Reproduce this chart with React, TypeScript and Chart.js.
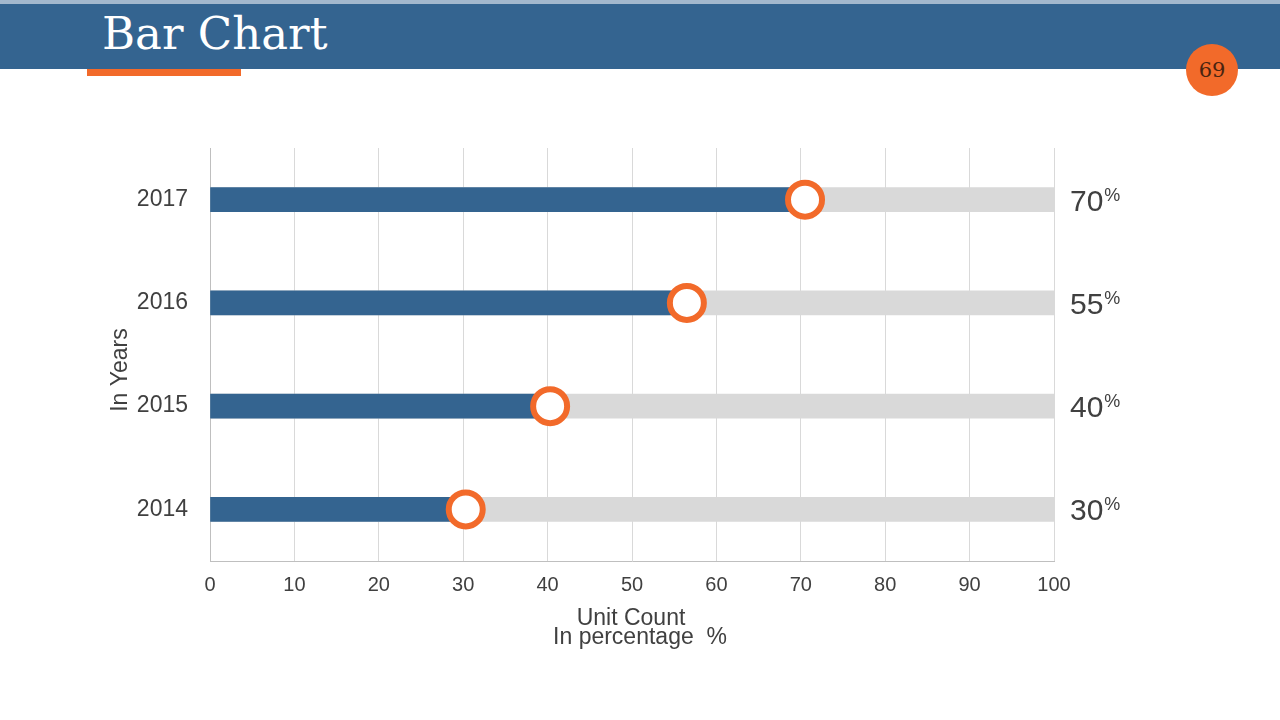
import React, { useEffect, useRef } from 'react';
import { Chart, registerables } from 'chart.js';

Chart.register(...registerables);

const years = ['2014', '2015', '2016', '2017'];
const values = [30.3, 40.3, 56.5, 70.5];
const labelValues = [30, 40, 55, 70];
const fullValues = [100, 100, 100, 100];
const xMin = 0;
const xMax = 100;
const xStep = 10;
const xTitleLines = ['Unit Count', 'In percentage  %'];
const yTitle = 'In Years';

const SANS = '"Liberation Sans", Arial, sans-serif';
const TEXT = '#404040';

const annotations = {
  id: 'annotations',
  afterDraw(chart: any) {
    const { ctx, scales } = chart;
    const x = scales.x;
    const y = scales.y;
    ctx.save();
    ctx.fillStyle = TEXT;
    labelValues.forEach((v, i) => {
      const py = y.getPixelForValue(i);
      const t = String(v);
      ctx.font = `30px ${SANS}`;
      ctx.textAlign = 'left';
      ctx.textBaseline = 'alphabetic';
      const bx = x.right + 16;
      ctx.fillText(t, bx, py + 11);
      const w = ctx.measureText(t).width;
      ctx.font = `18px ${SANS}`;
      ctx.fillText('%', bx + w + 1, py + 1);
    });
    // y axis title
    ctx.save();
    ctx.translate(127, 370);
    ctx.rotate(-Math.PI / 2);
    ctx.font = `23px ${SANS}`;
    ctx.textAlign = 'center';
    ctx.textBaseline = 'alphabetic';
    ctx.fillText(yTitle, 0, 0);
    ctx.restore();
    // x axis title
    ctx.font = `23px ${SANS}`;
    ctx.textAlign = 'center';
    ctx.textBaseline = 'alphabetic';
    ctx.fillText(xTitleLines[0], 631, 625);
    ctx.fillText(xTitleLines[1], 640, 644);
    ctx.restore();
  },
};

function BarChart() {
  const ref = useRef<HTMLCanvasElement | null>(null);
  useEffect(() => {
    if (!ref.current) return;
    const chart = new Chart(ref.current, {
      type: 'bar',
      data: {
        labels: years,
        datasets: [
          {
            type: 'line',
            data: values,
            indexAxis: 'y',
            showLine: false,
            pointRadius: 17,
            pointHoverRadius: 17,
            pointBorderWidth: 6,
            pointBackgroundColor: '#ffffff',
            pointBorderColor: '#f26a2a',
            order: 0,
          } as any,
          {
            data: values,
            backgroundColor: '#346490',
            barThickness: 24,
            grouped: false,
            order: 1,
          } as any,
          {
            data: fullValues,
            backgroundColor: '#d9d9d9',
            barThickness: 24,
            grouped: false,
            order: 2,
          } as any,
        ],
      },
      options: {
        indexAxis: 'y',
        responsive: false,
        animation: false,
        layout: { padding: { left: 0, top: 148, right: 226, bottom: 99 } },
        plugins: { legend: { display: false }, tooltip: { enabled: false } },
        scales: {
          x: {
            type: 'linear',
            min: xMin,
            max: xMax,
            ticks: {
              stepSize: xStep,
              color: TEXT,
              font: { family: SANS, size: 20 },
              padding: 12,
            },
            grid: { color: '#d9d9d9', drawTicks: false },
            border: { color: '#bfbfbf' },
            afterFit: (s: any) => {
              s.height = 60;
            },
          },
          y: {
            type: 'category',
            reverse: true,
            ticks: {
              color: TEXT,
              font: { family: SANS, size: 23 },
              padding: 22,
            },
            grid: { display: false, drawTicks: false },
            border: { color: '#bfbfbf' },
            afterFit: (s: any) => {
              s.width = 210;
            },
          },
        },
      } as any,
      plugins: [annotations],
    });
    return () => chart.destroy();
  }, []);
  return (
    <canvas
      ref={ref}
      width={1280}
      height={720}
      style={{ position: 'absolute', left: 0, top: 0, width: 1280, height: 720 }}
    />
  );
}

export default function App() {
  return (
    <div
      style={{
        position: 'fixed',
        left: 0,
        top: 0,
        width: 1280,
        height: 720,
        background: '#ffffff',
        overflow: 'hidden',
      }}
    >
      <div style={{ position: 'absolute', left: 0, top: 0, width: 1280, height: 4, background: '#a3b8cd' }} />
      <div style={{ position: 'absolute', left: 0, top: 4, width: 1280, height: 65, background: '#346490' }} />
      <div style={{ position: 'absolute', left: 87, top: 69, width: 154, height: 7, background: '#f26a2a' }} />
      <div
        style={{
          position: 'absolute',
          left: 102,
          top: 11,
          fontFamily: '"DejaVu Serif", Georgia, serif',
          fontSize: 45,
          lineHeight: '45px',
          color: '#ffffff',
          whiteSpace: 'nowrap',
        }}
      >
        Bar Chart
      </div>
      <BarChart />
      <div
        style={{
          position: 'absolute',
          left: 1186,
          top: 44,
          width: 52,
          height: 52,
          borderRadius: '50%',
          background: '#f26a2a',
          color: '#4a2410',
          fontFamily: '"DejaVu Serif", Georgia, serif',
          fontSize: 21,
          lineHeight: '52px',
          textAlign: 'center',
        }}
      >
        69
      </div>
    </div>
  );
}
